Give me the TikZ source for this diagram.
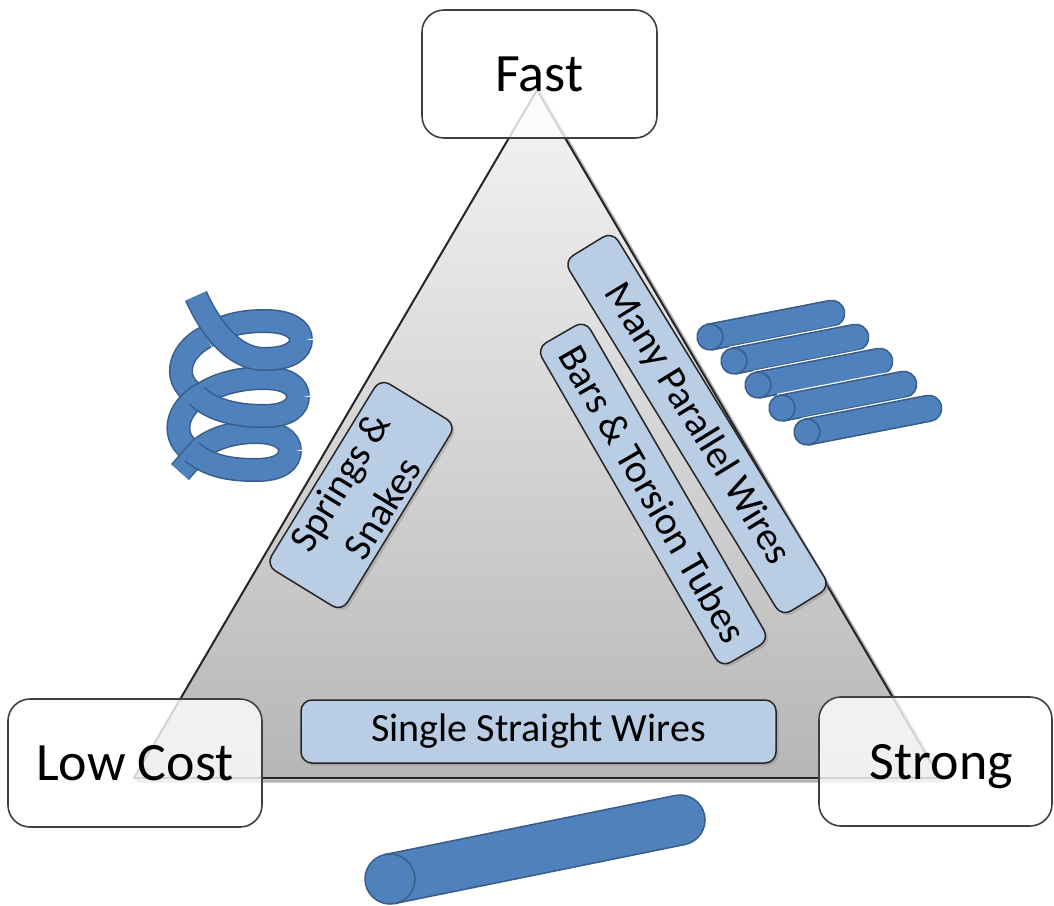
\documentclass[tikz,border=0pt]{standalone}
\usepackage{fontspec}
\setmainfont{Carlito}
\usetikzlibrary{shadows}
\definecolor{wireblue}{HTML}{4F81BD}
\definecolor{wireedge}{HTML}{385D8A}
\definecolor{labelfill}{HTML}{B9CDE5}
\definecolor{shadetop}{HTML}{F4F4F4}
\definecolor{shadebot}{HTML}{B6B6B6}

% a rod seen at a slant: front disc at (#1,#2), axis angle #3, length #4, radius #5
\newcommand\wirerod[5]{%
  \begin{scope}[shift={(#1,#2)}, rotate=#3]
    \draw[white, line width=4pt] (0,-#5) -- (#4,-#5) arc[start angle=-90, end angle=90, radius=#5] -- (0,#5) -- cycle;
    \filldraw[wire] (0,-#5) -- (#4,-#5) arc[start angle=-90, end angle=90, radius=#5] -- (0,#5) -- cycle;
    \filldraw[wire] (0,0) circle[radius=#5];
  \end{scope}}

% one band of the coil, outlined
\newcommand\coilpiece[1]{%
  \draw[coiledge] #1;
  \draw[coilbody] #1;}

\begin{document}
\begin{tikzpicture}[x=1pt, y=-1pt,
  corner/.style={draw=black!75, line width=1.6pt, fill=white, fill opacity=0.8,
    text opacity=1, rounded corners=22pt, inner sep=0pt, text depth=0pt,
    font=\fontsize{54}{60}\selectfont},
  tag/.style={draw=black!85, line width=1.5pt, fill=labelfill, rounded corners=11pt,
    inner sep=0pt, align=center, font=\fontsize{40}{50}\selectfont,
    drop shadow={shadow xshift=2.5pt, shadow yshift=-2.5pt, opacity=0.35}},
  wire/.style={fill=wireblue, draw=wireedge, line width=1.5pt},
  coiledge/.style={draw=wireedge, line width=24pt},
  coilbody/.style={draw=wireblue, line width=21pt}
]
\useasboundingbox (0,0) rectangle (1054,905);
\fill[white] (0,0) rectangle (1054,905);

% shaded trade-off triangle with a soft shadow
\draw[black!30, line width=3pt, line join=round, shift={(3,3)}]
  (537,90) -- (134,778) -- (940,778) -- cycle;
\shade[top color=shadetop, bottom color=shadebot] (537,90) -- (134,778) -- (940,778) -- cycle;
\draw[black!85, line width=2pt, line join=round] (537,90) -- (134,778) -- (940,778) -- cycle;

% coil spring: back bands and the turns on the left first, front bands over them
\coilpiece{(301,340) .. controls (301,329) and (289,321) .. (264,321) .. controls (238,321) and (220,327) .. (206,337)}
\coilpiece{(206,337) .. controls (176,352) and (172,384) .. (199,396)}
\coilpiece{(298,397) .. controls (298,386) and (287,378) .. (264,378) .. controls (240,378) and (218,384) .. (204,393)}
\coilpiece{(204,393) .. controls (174,408) and (170,440) .. (194,452)}
\coilpiece{(290,451) .. controls (290,440) and (279,432) .. (256,432) .. controls (232,432) and (212,439) .. (200,449)}
\coilpiece{(202,447) .. controls (194,456) and (188,463) .. (180,472)}
\coilpiece{(196,296) .. controls (209,325) and (232,359) .. (264,359) .. controls (291,359) and (301,350) .. (301,339)}
\coilpiece{(197,396) .. controls (213,411) and (238,416) .. (264,416) .. controls (289,416) and (298,407) .. (298,396)}
\coilpiece{(192,452) .. controls (210,467) and (232,470) .. (256,470) .. controls (281,470) and (290,461) .. (290,450)}

% bundle of parallel wires
\wirerod{710}{337}{11}{124}{13}
\wirerod{734}{361}{11}{124}{13}
\wirerod{758}{385}{11}{124}{13}
\wirerod{782}{408}{11}{124}{13}
\wirerod{807}{432}{11}{124}{13}

% single straight wire
\wirerod{390}{879}{11.5}{296}{25}

% design approaches
\node[tag, minimum width=475pt, minimum height=63pt] (single) at (538.5,731.5) {Single Straight Wires};
\node[tag, rotate=58.5, minimum width=219pt, minimum height=89pt] (springs) at (361,495) {Springs \&\\Snakes};
\node[tag, rotate=-58.5, minimum width=417pt, minimum height=57pt] (many) at (697,424) {Many Parallel Wires};
\node[tag, rotate=-60, minimum width=369pt, minimum height=56pt] (bars) at (653,494) {Bars \& Torsion Tubes};

% goals at the corners
\node[corner, minimum width=235pt, minimum height=128pt] (fast) at (539.5,74) {Fast};
\node[corner, minimum width=254pt, minimum height=128pt] (cost) at (135,763) {Low Cost};
\node[corner, minimum width=233pt, minimum height=129pt] (strong) at (935.5,761.5) {\hspace*{12pt}Strong};
\end{tikzpicture}
\end{document}
